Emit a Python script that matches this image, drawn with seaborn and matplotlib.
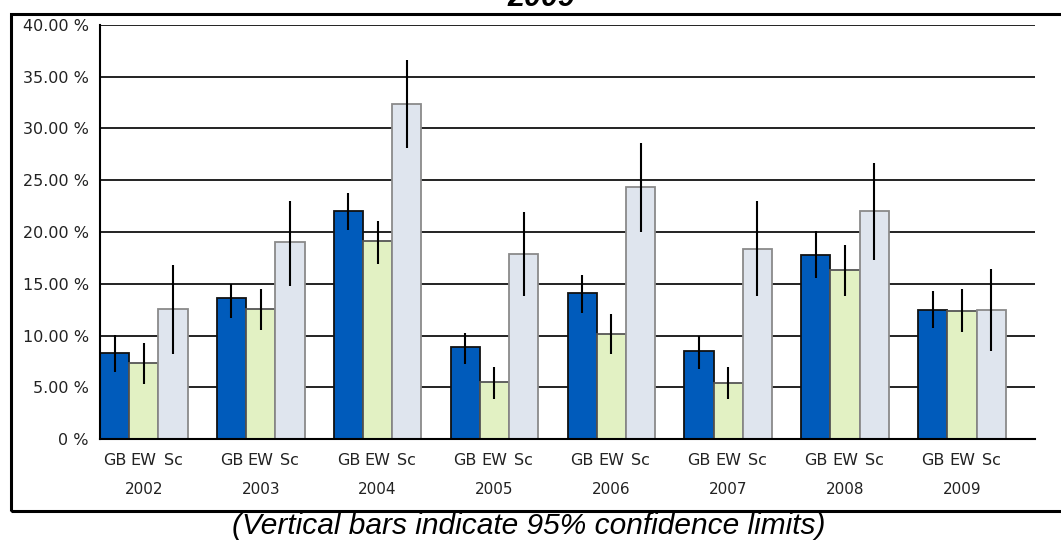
import pandas as pd
import seaborn as sns
import matplotlib.pyplot as plt
from matplotlib.patches import Rectangle
from matplotlib.ticker import FixedLocator, FuncFormatter

years = ["2002", "2003", "2004", "2005", "2006", "2007", "2008", "2009"]
regions = ["GB", "EW", "Sc"]

gb = [8.3, 13.6, 22.0, 8.9, 14.1, 8.5, 17.8, 12.5]
gb_lo = [6.5, 11.7, 20.2, 7.25, 12.2, 6.8, 15.6, 10.7]
gb_hi = [10.05, 15.0, 23.8, 10.2, 15.85, 10.0, 20.1, 14.3]

ew = [7.3, 12.6, 19.1, 5.5, 10.1, 5.4, 16.3, 12.4]
ew_lo = [5.3, 10.5, 16.9, 3.9, 8.2, 3.9, 13.8, 10.3]
ew_hi = [9.3, 14.5, 21.1, 7.0, 12.05, 7.0, 18.75, 14.5]

sc = [12.6, 19.0, 32.4, 17.9, 24.3, 18.4, 22.0, 12.5]
sc_lo = [8.2, 14.8, 28.1, 13.8, 20.0, 13.8, 17.3, 8.5]
sc_hi = [16.8, 23.0, 36.6, 21.9, 28.6, 23.0, 26.7, 16.45]

colors = {"GB": "#005BBB", "EW": "#E2F1C3", "Sc": "#DFE5EE"}
edges = {"GB": "#111111", "EW": "#555555", "Sc": "#8A8A8A"}


def make_frame() -> pd.DataFrame:
    parts = []
    for reg, val, lo, hi in [("GB", gb, gb_lo, gb_hi), ("EW", ew, ew_lo, ew_hi),
                             ("Sc", sc, sc_lo, sc_hi)]:
        parts.append(pd.DataFrame({"year": years, "region": reg, "value": val,
                                   "lo": lo, "hi": hi}))
    return pd.concat(parts, ignore_index=True)


df = make_frame()

sns.set_style("white")
plt.rcParams["font.family"] = ["DejaVu Sans"]

fig = plt.figure(figsize=(10.61, 5.42), dpi=100)
W, H = 1061, 542
ax = fig.add_axes([100 / W, 1 - 439 / H, 935 / W, 414 / H])

sns.barplot(data=df, x="year", y="value", hue="region", hue_order=regions,
            order=years, palette=colors, width=0.75, errorbar=None,
            saturation=1, legend=False, linewidth=1.3, ax=ax)

# confidence limits as plain vertical lines through each bar
centers = []
for cont, reg in zip(ax.containers, regions):
    sub = df[df["region"] == reg].set_index("year").loc[years]
    xs = []
    for bar in cont:
        bar.set_edgecolor(edges[reg])
        xs.append(bar.get_x() + bar.get_width() / 2)
    centers.extend(xs)
    ax.vlines(xs, sub["lo"], sub["hi"], color="black", lw=1.5, zorder=4)

ax.set_xlim(-0.375, len(years) - 0.375)
ax.set_ylim(0, 40)
ax.set_yticks(range(0, 41, 5))
ax.yaxis.set_major_formatter(FuncFormatter(lambda v, p: "0 %" if v == 0 else f"{v:.2f} %"))
ax.yaxis.grid(True, color="#111111", lw=1.3)
ax.set_axisbelow(True)

bounds = [-0.375 + 0.25 * k for k in range(4 * len(years) + 1)]
ax.xaxis.set_major_locator(FixedLocator(bounds))
ax.xaxis.set_major_formatter(FuncFormatter(lambda v, p: ""))
ax.xaxis.set_minor_locator(FixedLocator(sorted(centers)))
ax.set_xticklabels(regions * len(years), minor=True)
ax.tick_params(axis="x", which="major", direction="out", length=6, width=1.2, color="black")
ax.tick_params(axis="x", which="minor", length=0, pad=10, labelsize=11.5, labelcolor="#222222")
ax.tick_params(axis="y", direction="out", length=8, width=1.2, color="black",
               pad=0, labelsize=11.5, labelcolor="#222222")

for i, yr in enumerate(years):
    ax.text(i, -0.123, yr, transform=ax.get_xaxis_transform(), ha="center",
            va="center", fontsize=11, color="#222222")

ax.set_xlabel("")
ax.set_ylabel("")
for side in ["top", "right"]:
    ax.spines[side].set_visible(False)
for side in ["left", "bottom"]:
    ax.spines[side].set_color("black")
    ax.spines[side].set_linewidth(1.5)

fig.patches.append(Rectangle((11 / W, 1 - 511 / H), 1070 / W, 497 / H,
                             transform=fig.transFigure, fill=False, lw=2.2,
                             ec="black"))
fig.text(541 / W, 1 - 6 / H, "2009", ha="center", va="baseline", color="black",
         fontweight="bold", style="italic", family="Liberation Sans", fontsize=22)
fig.text(529 / W, 1 - 526 / H, "(Vertical bars indicate 95% confidence limits)",
         ha="center", va="center", style="italic", family="Liberation Sans",
         fontsize=21.5, color="black")

fig.savefig("out.png", dpi=100)
